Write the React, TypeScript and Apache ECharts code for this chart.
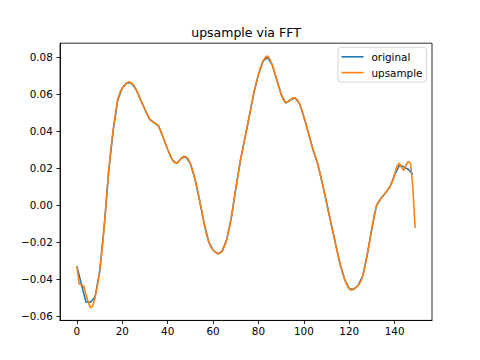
import React, { useEffect, useRef } from "react";
import * as echarts from "echarts";

const titleText = "upsample via FFT";
const seriesNames = ["original", "upsample"];
const seriesColors = ["#1f77b4", "#ff7f0e"];

const xTicks = [0, 20, 40, 60, 80, 100, 120, 140];
const yTicks = [-0.06, -0.04, -0.02, 0.0, 0.02, 0.04, 0.06, 0.08];
const xRange = [-7.45, 156.45];
const yRange = [-0.0623, 0.0877];

const originalStep = 2;
const originalValues = [
  -0.033, -0.0428, -0.0525, -0.0525, -0.0495, -0.036, -0.012, 0.0185, 0.0405, 0.057,
  0.0635, 0.0662, 0.0662, 0.0628, 0.0572, 0.0518, 0.0466, 0.0447, 0.0428, 0.0368,
  0.0302, 0.0246, 0.0226, 0.0255, 0.0262, 0.0225, 0.0143, 0.003, -0.0095, -0.0195,
  -0.0242, -0.0263, -0.0248, -0.0186, -0.007, 0.009, 0.024, 0.0362, 0.0485, 0.061,
  0.0708, 0.078, 0.08, 0.0762, 0.0682, 0.06, 0.0553, 0.057, 0.0582, 0.0552,
  0.0478, 0.0392, 0.0302, 0.0228, 0.0126, 0.0015, -0.01, -0.0212, -0.032, -0.0402,
  -0.0452, -0.0455, -0.0432, -0.038, -0.0262, -0.0122, -0.0002, 0.0038, 0.0068, 0.0102,
  0.0165, 0.0215, 0.0208, 0.0195, 0.0168,
];

const upsampleStep = 1;
const upsampleValues = [
  -0.033, -0.0425, -0.0432, -0.0436, -0.0485, -0.0525, -0.0555, -0.0545, -0.05, -0.0435,
  -0.036, -0.025, -0.012, 0.003, 0.0185, 0.031, 0.041, 0.05, 0.0575, 0.0612,
  0.0635, 0.065, 0.0662, 0.0668, 0.0662, 0.065, 0.0628, 0.0603, 0.0572, 0.0545,
  0.0518, 0.049, 0.0466, 0.0454, 0.0447, 0.044, 0.043, 0.04, 0.0368, 0.0335,
  0.0302, 0.0272, 0.0246, 0.0232, 0.0228, 0.024, 0.0255, 0.0265, 0.0262, 0.0252,
  0.0225, 0.0188, 0.0143, 0.009, 0.003, -0.003, -0.0095, -0.015, -0.0195, -0.0225,
  -0.0242, -0.0254, -0.0262, -0.0259, -0.0248, -0.0222, -0.0186, -0.0132, -0.007, 0.001,
  0.009, 0.0165, 0.024, 0.0302, 0.0362, 0.0422, 0.0485, 0.055, 0.061, 0.0662,
  0.0708, 0.0748, 0.078, 0.08, 0.0808, 0.079, 0.0762, 0.0722, 0.0682, 0.064,
  0.06, 0.0568, 0.0555, 0.056, 0.057, 0.058, 0.0582, 0.0572, 0.0552, 0.0518,
  0.0478, 0.0437, 0.0392, 0.0345, 0.0302, 0.0268, 0.0228, 0.018, 0.0126, 0.007,
  0.0015, -0.0044, -0.01, -0.0155, -0.0212, -0.0268, -0.032, -0.0365, -0.0402, -0.0432,
  -0.0452, -0.046, -0.0452, -0.0444, -0.0432, -0.0415, -0.038, -0.0328, -0.0262, -0.0192,
  -0.0122, -0.0055, -0.0002, 0.0022, 0.0038, 0.0052, 0.0068, 0.0085, 0.0102, 0.0128,
  0.0168, 0.0212, 0.0228, 0.0205, 0.0188, 0.0218, 0.0238, 0.0226, 0.01, -0.0123,
];

const FONT = "'DejaVu Sans', sans-serif";

function fmtY(v: number): string {
  const s = Math.abs(v).toFixed(2);
  return v < -1e-9 ? "\u2212" + s : s;
}

export default function App() {
  const ref = useRef<HTMLDivElement>(null);
  useEffect(() => {
    document.body.style.margin = "0";
    if (!ref.current) return;
    const chart = echarts.init(ref.current, undefined, { renderer: "svg" });
    const gridLeft = 60;
    const gridTop = 43.2;
    const gridW = 372;
    const gridH = 277.2;
    const axisCommon = {
      axisLine: { show: true, onZero: false, lineStyle: { color: "#000", width: 0.83 } },
      axisTick: { show: true, length: 3.6, inside: false, lineStyle: { color: "#000", width: 0.83 } },
      splitLine: { show: false },
    };
    chart.setOption({
      animation: false,
      backgroundColor: "#fff",
      textStyle: { fontFamily: FONT },
      grid: {
        left: gridLeft,
        top: gridTop,
        width: gridW,
        height: gridH,
        show: true,
        borderColor: "#000",
        borderWidth: 0.83,
        containLabel: false,
      },
      xAxis: {
        type: "value",
        min: xRange[0],
        max: xRange[1],
        position: "bottom",
        ...axisCommon,
        axisTick: { ...axisCommon.axisTick, customValues: xTicks },
        axisLabel: {
          customValues: xTicks,
          margin: 6,
          color: "#000",
          fontSize: 10.4,
          fontFamily: FONT,
          formatter: (v: number) => String(Math.round(v)),
        },
      },
      yAxis: {
        type: "value",
        min: yRange[0],
        max: yRange[1],
        position: "left",
        ...axisCommon,
        axisTick: { ...axisCommon.axisTick, customValues: yTicks },
        axisLabel: {
          customValues: yTicks,
          margin: 7.2,
          color: "#000",
          fontSize: 10.4,
          fontFamily: FONT,
          formatter: (v: number) => fmtY(v),
        },
      },
      legend: {
        orient: "vertical",
        left: 338,
        top: 47.3,
        padding: [3.5, 4, 3.5, 3.5],
        itemGap: 3.8,
        itemWidth: 22,
        itemHeight: 1.6,
        icon: "rect",
        backgroundColor: "rgba(255,255,255,0.8)",
        borderColor: "#cccccc",
        borderWidth: 0.83,
        borderRadius: 3,
        textStyle: { fontFamily: FONT, fontSize: 10.4, color: "#000", lineHeight: 12, padding: [0, 0, 0, 3] },
        data: seriesNames,
      },
      graphic: [
        {
          type: "text",
          x: gridLeft + gridW / 2,
          y: 32.8,
          style: {
            text: titleText,
            fontFamily: FONT,
            fontSize: 12.5,
            fill: "#000",
            align: "center",
            verticalAlign: "middle",
          },
        },
      ],
      series: [
        {
          name: seriesNames[0],
          type: "line",
          data: originalValues.map((v, i) => [i * originalStep, v]),
          showSymbol: false,
          symbol: "none",
          lineStyle: { color: seriesColors[0], width: 1.56 },
          itemStyle: { color: seriesColors[0] },
          z: 2,
        },
        {
          name: seriesNames[1],
          type: "line",
          data: upsampleValues.map((v, i) => [i * upsampleStep, v]),
          showSymbol: false,
          symbol: "none",
          lineStyle: { color: seriesColors[1], width: 1.56 },
          itemStyle: { color: seriesColors[1] },
          z: 3,
        },
      ],
    });
    return () => chart.dispose();
  }, []);
  return <div ref={ref} style={{ width: 480, height: 360 }} />;
}
